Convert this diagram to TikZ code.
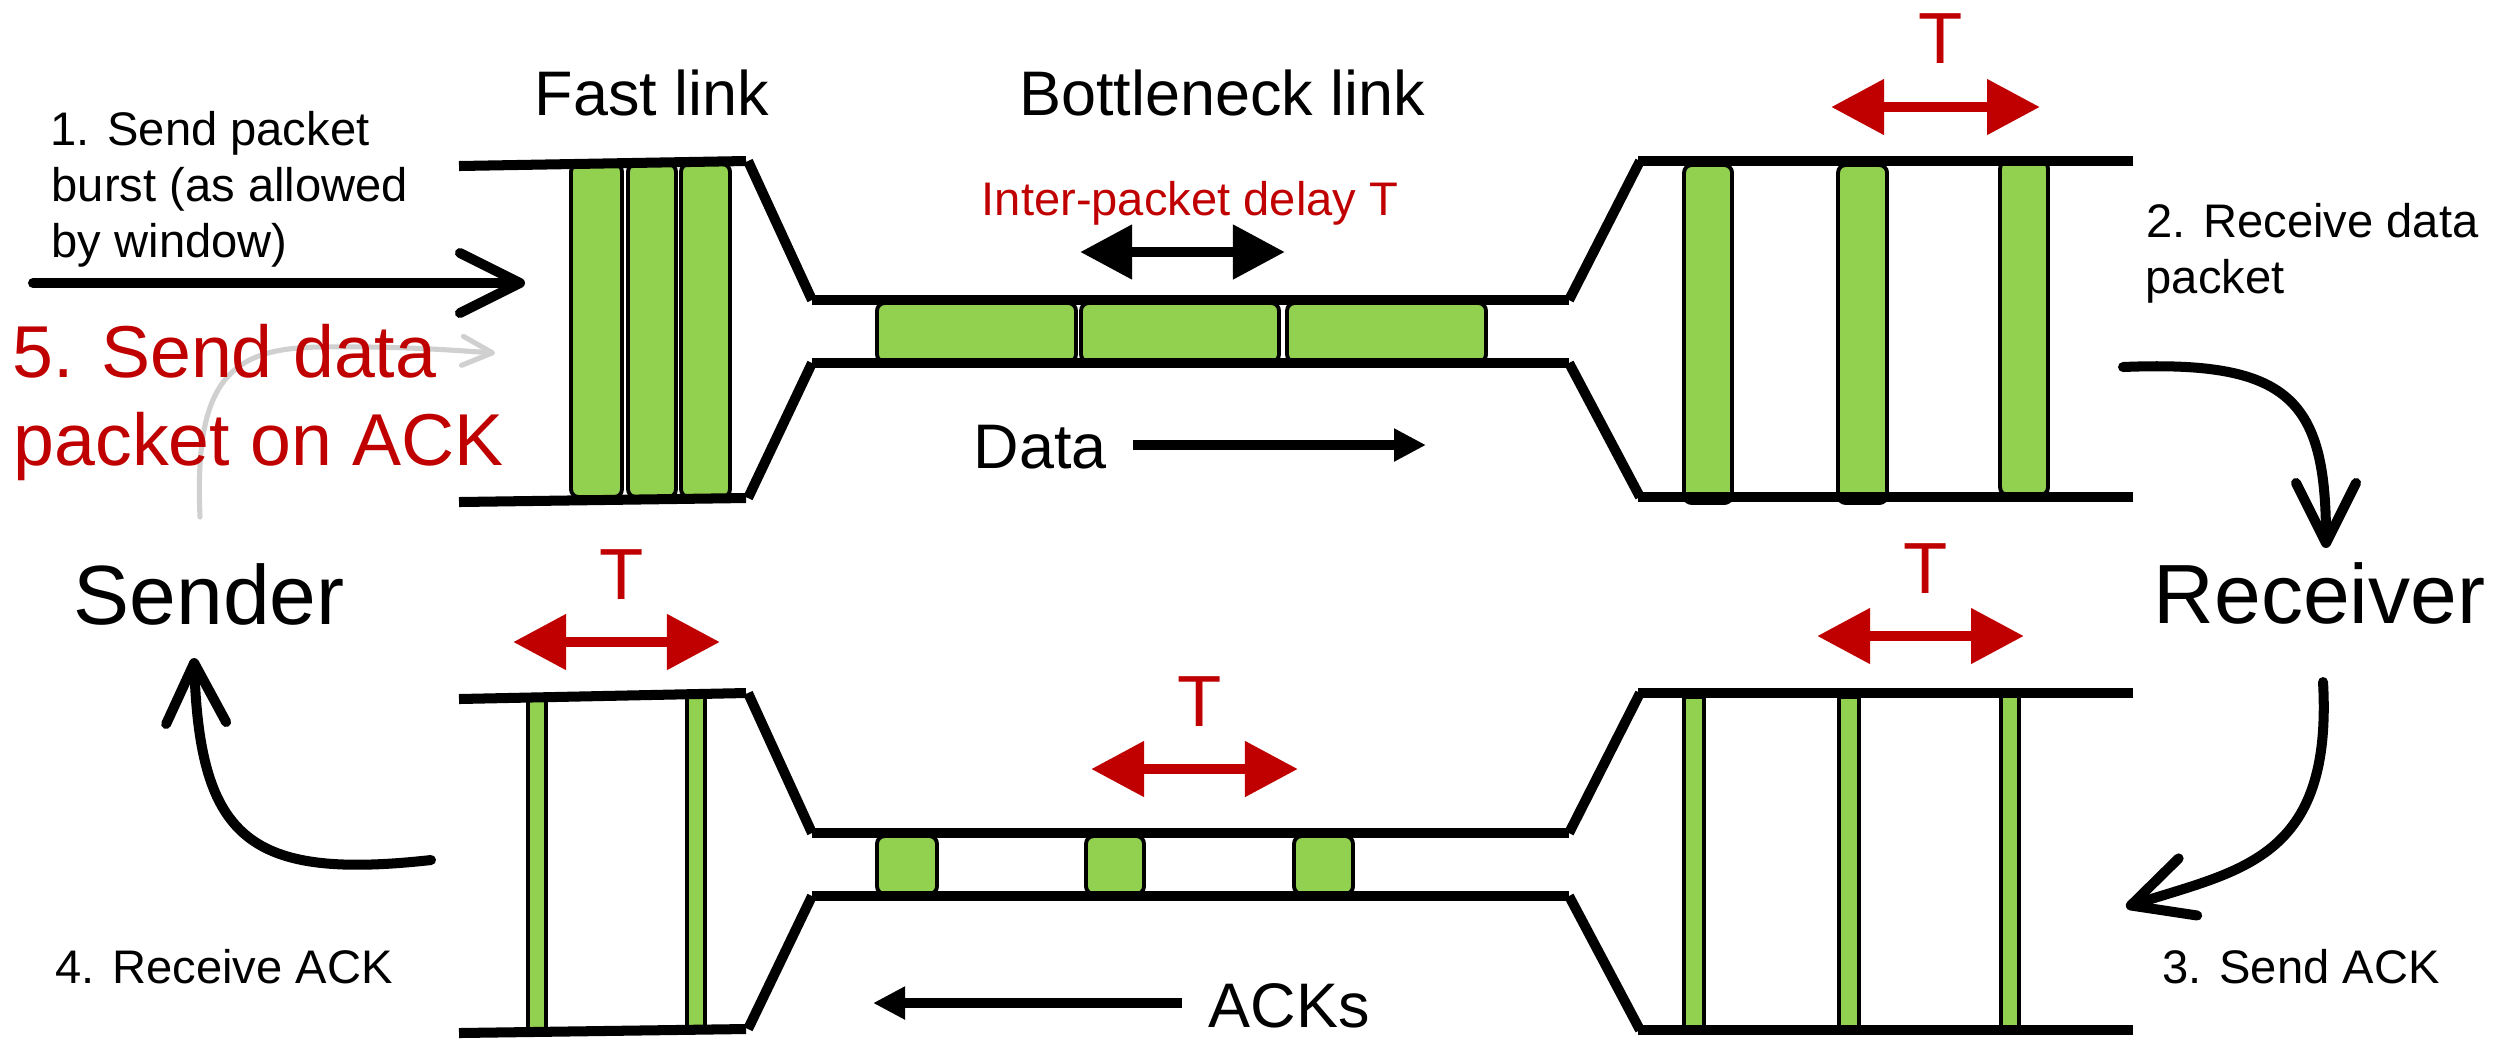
\documentclass[tikz,border=0pt]{standalone}
\usepackage{fontspec}
\setmainfont{Liberation Sans}
\usetikzlibrary{arrows.meta}
\definecolor{pred}{RGB}{192,0,0}
\definecolor{pgreen}{RGB}{146,208,80}
\definecolor{pgrey}{RGB}{208,208,208}
\begin{document}
\begin{tikzpicture}[x=0.01cm,y=-0.01cm,
  wire/.style={line width=2.85pt, line cap=butt},
  pkt/.style={draw=black, fill=pgreen, line width=1.1pt, rounded corners=2.2pt},
  ackbar/.style={draw=black, fill=pgreen, line width=1.1pt},
  txt/.style={inner sep=0pt, anchor=base west},
  ctxt/.style={inner sep=0pt, anchor=base},
  fsmall/.style={font=\fontsize{13.4pt}{16pt}\selectfont},
  fbig/.style={font=\fontsize{17.9pt}{21pt}\selectfont},
  fhuge/.style={font=\fontsize{23.9pt}{28pt}\selectfont},
  fstep/.style={font=\fontsize{20.9pt}{25pt}\selectfont, text=pred},
  fT/.style={font=\fontsize{20.6pt}{25pt}\selectfont, text=pred},
  redtwo/.style={draw=pred, line width=3.1pt, {Triangle[length=0.53cm,width=0.53cm]}-{Triangle[length=0.53cm,width=0.53cm]}},
  blacktwo/.style={draw=black, line width=3.1pt, {Triangle[length=0.52cm,width=0.52cm]}-{Triangle[length=0.52cm,width=0.52cm]}},
  dirarrow/.style={draw=black, line width=3.1pt, -{Triangle[length=0.32cm,width=0.31cm]}},
  flow/.style={draw=black, line width=2.85pt, line cap=round, -{Straight Barb[length=0.6cm,width=0.6cm,round]}},
  ghost/.style={draw=pgrey, line width=1.45pt, line cap=round, -{Straight Barb[length=0.3cm,width=0.29cm,round]}}
]
\useasboundingbox (0,0) rectangle (2507,1038);
\fill[white] (0,0) rectangle (2507,1038);

% ---------- grey arrow (step 5) ----------
\coordinate (g0) at (200,517);
\coordinate (g1) at (495,353);
\draw[ghost] (g0) .. controls (194,380) and (230,348) .. (320,347) .. controls (400,346) and (450,350) .. (g1);

% ---------- packets: top ----------
\draw[pkt] (571,164) rectangle (622,497);
\draw[pkt] (628,164) rectangle (676,497);
\draw[pkt] (681,164) rectangle (730,497);
\draw[pkt] (877,303) rectangle (1076,362);
\draw[pkt] (1081,303) rectangle (1279,362);
\draw[pkt] (1287,303) rectangle (1486,362);
\draw[pkt] (1684,165) rectangle (1732,503);
\draw[pkt] (1838,165) rectangle (1887,503);
\draw[pkt] (2000,161) rectangle (2048,495);

% ---------- packets: bottom ----------
\draw[ackbar] (528,699) rectangle (546,1033);
\draw[ackbar] (687,695) rectangle (705,1030);
\draw[pkt] (877,836) rectangle (937,894);
\draw[pkt] (1086,836) rectangle (1144,894);
\draw[pkt] (1294,836) rectangle (1353,894);
\draw[ackbar] (1684,697) rectangle (1704,1033);
\draw[ackbar] (1839,697) rectangle (1859,1033);
\draw[ackbar] (2001,693) rectangle (2019,1028);

% ---------- links: top ----------
\draw[wire] (459,166) -- (746,161);
\draw[wire] (748,161) -- (812,300);
\draw[wire] (812,300) -- (1569,300);
\draw[wire] (1569,300) -- (1640,161);
\draw[wire] (1638,161) -- (2133,161);
\draw[wire] (459,502) -- (746,498);
\draw[wire] (748,498) -- (812,363);
\draw[wire] (812,363) -- (1569,363);
\draw[wire] (1569,363) -- (1640,497);
\draw[wire] (1638,497) -- (2133,497);

% ---------- links: bottom ----------
\draw[wire] (459,699) -- (746,693);
\draw[wire] (748,693) -- (812,833);
\draw[wire] (812,833) -- (1569,833);
\draw[wire] (1569,833) -- (1640,693);
\draw[wire] (1638,693) -- (2133,693);
\draw[wire] (459,1033) -- (746,1029);
\draw[wire] (748,1029) -- (812,896);
\draw[wire] (812,896) -- (1569,896);
\draw[wire] (1569,896) -- (1640,1030);
\draw[wire] (1638,1030) -- (2133,1030);

% ---------- texts ----------
\node[txt,fsmall] (s1a) at (50,145) {1. Send packet};
\node[txt,fsmall] (s1b) at (51,201) {burst (as allowed};
\node[txt,fsmall] (s1c) at (51,257) {by window)};
\node[txt,fstep] (s5a) at (12,377) {5. Send data};
\node[txt,fstep] (s5b) at (13,465) {packet on ACK};
\node[ctxt,fbig] (fast) at (652,115) {Fast link};
\node[ctxt,fbig] (bneck) at (1222,115) {Bottleneck link};
\node[ctxt,fsmall,text=pred] (ipd) at (1190,215) {Inter-packet delay T};
\node[txt,fbig] (data) at (973,468) {Data};
\node[ctxt,fT] (t1) at (1941,63) {T};
\node[txt,fsmall] (s2a) at (2146,237) {2. Receive data};
\node[txt,fsmall] (s2b) at (2145,293) {packet};
\node[txt,fhuge] (recv) at (2153,623) {Receiver};
\node[txt,fhuge] (send) at (73,624) {Sender};
\node[ctxt,fT] (t2) at (622,599) {T};
\node[txt,fsmall] (s4) at (55,983) {4. Receive ACK};
\node[ctxt,fT] (t3) at (1200,726) {T};
\node[txt,fbig] (acks) at (1208,1027) {ACKs};
\node[ctxt,fT] (t4) at (1926,593) {T};
\node[txt,fsmall] (s3) at (2162,983) {3. Send ACK};

% ---------- arrows ----------
\coordinate (a1s) at (33,283);
\coordinate (a1e) at (525,283);
\draw[flow] (a1s) -- (a1e);

\coordinate (ipdL) at (1080,252);
\coordinate (ipdR) at (1285,252);
\draw[blacktwo] (ipdL) -- (ipdR);

\coordinate (dS) at (1133,445);
\coordinate (dE) at (1426,445);
\draw[dirarrow] (dS) -- (dE);

\coordinate (aS) at (1182,1003);
\coordinate (aE) at (873,1003);
\draw[dirarrow] (aS) -- (aE);

\coordinate (t1L) at (1831,107);
\coordinate (t1R) at (2040,107);
\draw[redtwo] (t1L) -- (t1R);
\coordinate (t2L) at (513,642);
\coordinate (t2R) at (720,642);
\draw[redtwo] (t2L) -- (t2R);
\coordinate (t3L) at (1091,769);
\coordinate (t3R) at (1298,769);
\draw[redtwo] (t3L) -- (t3R);
\coordinate (t4L) at (1817,636);
\coordinate (t4R) at (2024,636);
\draw[redtwo] (t4L) -- (t4R);

\coordinate (c1s) at (2123,367);
\coordinate (c1e) at (2326,548);
\draw[flow] (c1s) .. controls (2290,360) and (2326,400) .. (c1e);
\coordinate (c2s) at (2323,682);
\coordinate (c2e) at (2126,907);
\draw[flow] (c2s) .. controls (2333,860) and (2240,870) .. (c2e);
\coordinate (c3s) at (431,860);
\coordinate (c3e) at (194,658);
\draw[flow] (c3s) .. controls (250,880) and (200,840) .. (c3e);
\end{tikzpicture}
\end{document}
